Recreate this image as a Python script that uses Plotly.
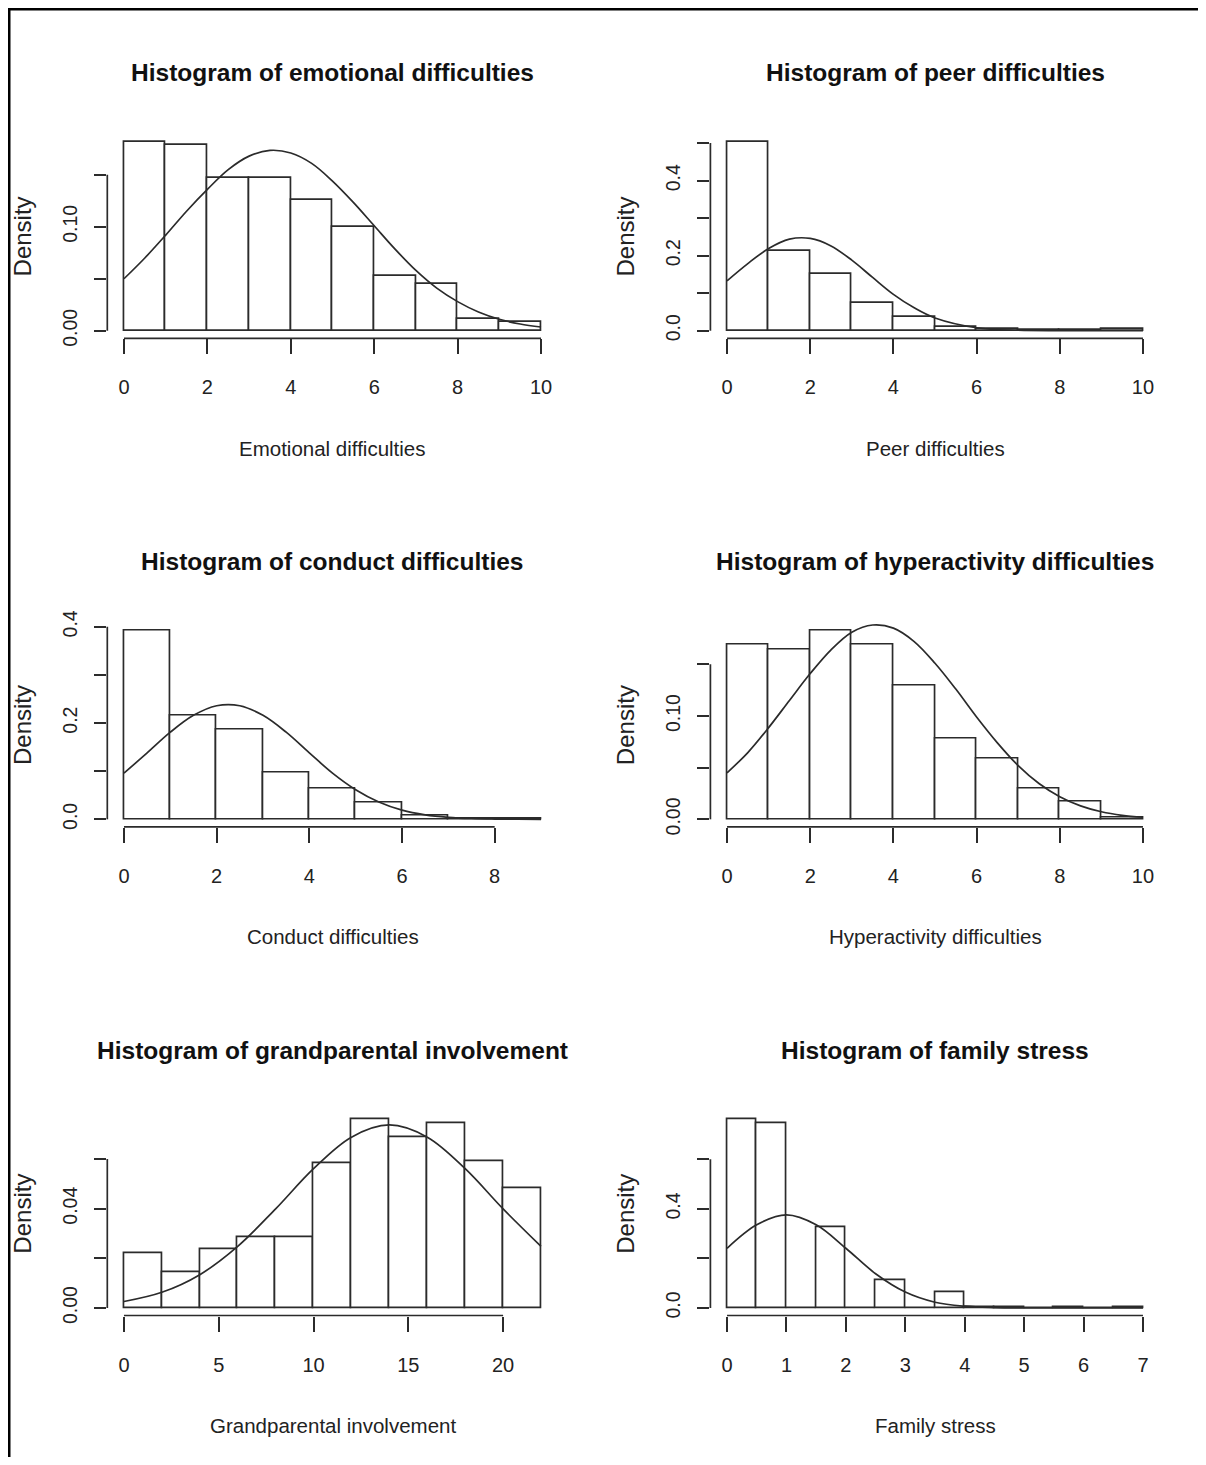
import numpy as np
import plotly.graph_objects as go

# ---------------- data ----------------
titles = ["Histogram of emotional difficulties", "Histogram of peer difficulties",
          "Histogram of conduct difficulties", "Histogram of hyperactivity difficulties",
          "Histogram of grandparental involvement", "Histogram of family stress"]
xlabels = ["Emotional difficulties", "Peer difficulties", "Conduct difficulties",
           "Hyperactivity difficulties", "Grandparental involvement", "Family stress"]

emo_breaks = [0, 1, 2, 3, 4, 5, 6, 7, 8, 9, 10]
emo_density = [0.182, 0.179, 0.147, 0.147, 0.126, 0.100, 0.053, 0.045, 0.011, 0.008]
emo_curve_x = [0, 0.5, 1, 1.5, 2, 2.5, 3, 3.5, 4, 4.5, 5, 5.5, 6, 6.5, 7, 7.5, 8, 8.5, 9, 9.5, 10]
emo_curve_y = [0.050, 0.070, 0.092, 0.115, 0.136, 0.155, 0.168, 0.1735, 0.171, 0.161, 0.144,
               0.1235, 0.101, 0.0785, 0.058, 0.041, 0.028, 0.018, 0.011, 0.0065, 0.0036]
emo_xticks = [0, 2, 4, 6, 8, 10]
emo_yticks = [0, 0.05, 0.10, 0.15]
emo_ytext = ["0.00", "", "0.10", ""]

peer_breaks = [0, 1, 2, 3, 4, 5, 6, 7, 8, 9, 10]
peer_density = [0.504, 0.212, 0.150, 0.074, 0.037, 0.010, 0.004, 0.002, 0.001, 0.004]
peer_curve_x = [0, 0.5, 1, 1.5, 2, 2.5, 3, 3.5, 4, 4.5, 5, 6, 7, 8, 9, 10]
peer_curve_y = [0.133, 0.179, 0.219, 0.244, 0.246, 0.226, 0.188, 0.142, 0.097, 0.061,
                0.034, 0.008, 0.0013, 0.0002, 0.0, 0.0]
peer_xticks = [0, 2, 4, 6, 8, 10]
peer_yticks = [0, 0.1, 0.2, 0.3, 0.4, 0.5]
peer_ytext = ["0.0", "", "0.2", "", "0.4", ""]

cond_breaks = [0, 1, 2, 3, 4, 5, 6, 7, 8, 9]
cond_density = [0.393, 0.216, 0.186, 0.097, 0.064, 0.035, 0.007, 0.001, 0.001]
cond_curve_x = [0, 0.5, 1, 1.5, 2, 2.5, 3, 3.5, 4, 4.5, 5, 5.5, 6, 6.5, 7, 7.5, 8, 8.5, 9]
cond_curve_y = [0.096, 0.138, 0.181, 0.216, 0.236, 0.236, 0.216, 0.181, 0.138, 0.096, 0.0615,
                0.036, 0.019, 0.0093, 0.0042, 0.0017, 0.0006, 0.0002, 0.0]
cond_xticks = [0, 2, 4, 6, 8]
cond_yticks = [0, 0.1, 0.2, 0.3, 0.4]
cond_ytext = ["0.0", "", "0.2", "", "0.4"]

hyp_breaks = [0, 1, 2, 3, 4, 5, 6, 7, 8, 9, 10]
hyp_density = [0.169, 0.164, 0.183, 0.169, 0.129, 0.078, 0.059, 0.030, 0.017, 0.002]
hyp_curve_x = [0, 0.5, 1, 1.5, 2, 2.5, 3, 3.5, 4, 4.5, 5, 5.5, 6, 6.5, 7, 7.5, 8, 8.5, 9, 9.5, 10]
hyp_curve_y = [0.045, 0.0646, 0.0887, 0.115, 0.141, 0.164, 0.181, 0.188, 0.185, 0.172, 0.151,
               0.126, 0.099, 0.074, 0.052, 0.0347, 0.0219, 0.013, 0.0073, 0.0039, 0.002]
hyp_xticks = [0, 2, 4, 6, 8, 10]
hyp_yticks = [0, 0.05, 0.10, 0.15]
hyp_ytext = ["0.00", "", "0.10", ""]

gp_breaks = [0, 2, 4, 6, 8, 10, 12, 14, 16, 18, 20, 22]
gp_density = [0.0219, 0.0145, 0.0236, 0.0285, 0.0285, 0.0583, 0.0762, 0.0687, 0.0745, 0.0593, 0.0482]
gp_curve_x = [0, 2, 4, 6, 8, 10, 12, 14, 16, 18, 20, 22]
gp_curve_y = [0.0026, 0.0063, 0.0134, 0.0248, 0.0399, 0.0561, 0.0688, 0.0737, 0.0688,
              0.0561, 0.0399, 0.0248]
gp_xticks = [0, 5, 10, 15, 20]
gp_yticks = [0, 0.02, 0.04, 0.06]
gp_ytext = ["0.00", "", "0.04", ""]

fs_breaks = [0, 0.5, 1, 1.5, 2, 2.5, 3, 3.5, 4, 4.5, 5, 5.5, 6, 6.5, 7]
fs_density = [0.764, 0.745, 0.0, 0.326, 0.0, 0.112, 0.0, 0.065, 0.004, 0.002, 0.0, 0.002, 0.0, 0.004]
fs_curve_x = [0, 0.5, 1, 1.5, 2, 2.5, 3, 3.5, 4, 4.5, 5, 5.5, 6, 6.5, 7]
fs_curve_y = [0.241, 0.336, 0.376, 0.336, 0.241, 0.138, 0.064, 0.023, 0.007, 0.0016,
              0.0003, 0.0, 0.0, 0.0, 0.0]
fs_xticks = [0, 1, 2, 3, 4, 5, 6, 7]
fs_yticks = [0, 0.2, 0.4, 0.6]
fs_ytext = ["0.0", "", "0.4", ""]

panels = [
    (emo_breaks, emo_density, emo_curve_x, emo_curve_y, emo_xticks, emo_yticks, emo_ytext),
    (peer_breaks, peer_density, peer_curve_x, peer_curve_y, peer_xticks, peer_yticks, peer_ytext),
    (cond_breaks, cond_density, cond_curve_x, cond_curve_y, cond_xticks, cond_yticks, cond_ytext),
    (hyp_breaks, hyp_density, hyp_curve_x, hyp_curve_y, hyp_xticks, hyp_yticks, hyp_ytext),
    (gp_breaks, gp_density, gp_curve_x, gp_curve_y, gp_xticks, gp_yticks, gp_ytext),
    (fs_breaks, fs_density, fs_curve_x, fs_curve_y, fs_xticks, fs_yticks, fs_ytext),
]

# ---------------- layout geometry ----------------
# figure sized to fit inside the page's default 8px body margin
W, H = 1190, 1449
OFF = 8
col_px = [(107.3 - OFF, 557.7 - OFF), (710.4 - OFF, 1159.6 - OFF)]
row_px = [(134.0 - OFF, 338.3 - OFF), (622.6 - OFF, 826.9 - OFF), (1111.2 - OFF, 1315.5 - OFF)]

FONT = "Liberation Sans, Arial, Helvetica, sans-serif"
INK = "#222222"
LINE = "#2b2b2b"

fig = go.Figure()
shapes = []
annotations = []
layout_axes = {}

for i, (br, dens, cx, cy, xt, yt, ytxt) in enumerate(panels):
    n = i + 1
    r, c = divmod(i, 2)
    xs = "" if n == 1 else str(n)
    xref, yref = "x" + xs, "y" + xs
    br = np.asarray(br, dtype=float)
    centers = (br[:-1] + br[1:]) / 2
    widths = np.diff(br)
    fig.add_trace(go.Bar(x=centers, y=dens, width=widths, xaxis=xref, yaxis=yref,
                         marker=dict(color="white", line=dict(color=LINE, width=1.7)),
                         showlegend=False, hoverinfo="skip"))
    fig.add_trace(go.Scatter(x=cx, y=cy, mode="lines", xaxis=xref, yaxis=yref,
                             line=dict(color=LINE, width=1.7, shape="spline", smoothing=1.0),
                             showlegend=False, hoverinfo="skip"))
    xr = br[-1] - br[0]
    ymax = max(dens)
    x0p, x1p = col_px[c]
    y0p, y1p = row_px[r]
    layout_axes["xaxis" + xs] = dict(
        domain=[x0p / W, x1p / W], anchor=yref, automargin=False,
        range=[br[0] - 0.04 * xr, br[-1] + 0.04 * xr],
        showgrid=False, zeroline=False, showline=False,
        tickmode="array", tickvals=xt, ticktext=[str(v) for v in xt],
        ticks="outside", ticklen=15, tickwidth=1.7, tickcolor=LINE,
        ticklabelstandoff=16,
        tickfont=dict(family=FONT, size=20, color=INK), fixedrange=True)
    layout_axes["yaxis" + xs] = dict(
        domain=[1 - y1p / H, 1 - y0p / H], anchor=xref, automargin=False,
        range=[-0.04 * ymax, 1.04 * ymax],
        showgrid=False, zeroline=False, showline=False,
        tickmode="array", tickvals=yt, ticktext=ytxt,
        ticks="outside", ticklen=12, tickwidth=1.7, tickcolor=LINE,
        tickangle=-90, ticklabelstandoff=10,
        tickfont=dict(family=FONT, size=19.5, color=INK), fixedrange=True)
    # R-style axis lines spanning first to last tick
    shapes.append(dict(type="line", xref=xref, yref=yref + " domain",
                       x0=xt[0], x1=xt[-1], y0=0, y1=0,
                       line=dict(color=LINE, width=1.7)))
    shapes.append(dict(type="line", xref=xref + " domain", yref=yref,
                       x0=0, x1=0, y0=yt[0], y1=yt[-1],
                       line=dict(color=LINE, width=1.7)))
    annotations.append(dict(text="<b>" + titles[i] + "</b>", xref=xref + " domain",
                            yref=yref + " domain", x=0.5, y=1, yshift=61,
                            xanchor="center", yanchor="middle", showarrow=False,
                            font=dict(family=FONT, size=24.5, color="#111111")))
    annotations.append(dict(text=xlabels[i], xref=xref + " domain",
                            yref=yref + " domain", x=0.5, y=0, yshift=-110,
                            xanchor="center", yanchor="middle", showarrow=False,
                            font=dict(family=FONT, size=20.5, color=INK)))
    annotations.append(dict(text="Density", xref=xref + " domain",
                            yref=yref + " domain", x=0, y=0.5, xshift=-85,
                            xanchor="center", yanchor="middle", textangle=-90,
                            showarrow=False,
                            font=dict(family=FONT, size=24, color=INK)))

# outer frame (top and left edges visible in the picture)
shapes.append(dict(type="line", xref="paper", yref="paper", x0=0, x1=1.0,
                   y0=1 - 1 / H, y1=1 - 1 / H, line=dict(color="black", width=3)))
shapes.append(dict(type="line", xref="paper", yref="paper", x0=1 / W, x1=1 / W,
                   y0=0, y1=1, line=dict(color="black", width=3)))

fig.update_layout(width=W, height=H,
                  margin=dict(l=0, r=0, t=0, b=0, pad=0, autoexpand=False),
                  paper_bgcolor="white", plot_bgcolor="white",
                  bargap=0, barmode="overlay", showlegend=False,
                  shapes=shapes, annotations=annotations, **layout_axes)

fig.write_html("out.html")
